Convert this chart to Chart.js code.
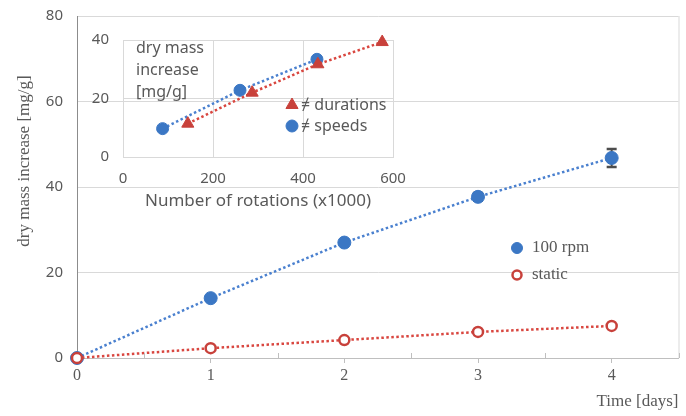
<!DOCTYPE html>
<html>
<head>
<meta charset="utf-8">
<script src="https://cdn.jsdelivr.net/npm/chart.js@4.4.0/dist/chart.umd.min.js"></script>
<style>
    body { margin: 0; background: #ffffff; }
    #wrap { position: relative; width: 686px; height: 416px; }
    #main_chart-container { position: absolute; left: 0; top: 0; }
    #inset_chart-container { position: absolute; left: 80px; top: 25px; }
</style>
</head>
<body>
<div id="wrap">
    <div id="main_chart-container"><canvas id="mainChart" width="686" height="416"></canvas></div>
    <div id="inset_chart-container"><canvas id="insetChart" width="330" height="190"></canvas></div>
</div>
<script>
// Main chart data (days vs dry mass increase)
var days = [0, 1, 2, 3, 4];
var rpm100 = [0, 14, 27, 37.7, 46.8];
var rpm100Err = [0, 0, 0, 0.9, 2.1];
var staticMass = [0, 2.3, 4.2, 6.1, 7.5];
var mainLabels = ["100 rpm", "static"];
var mainYTitle = "dry mass increase [mg/g]";
var mainXTitle = "Time [days]";

// Inset data (number of rotations x1000 vs dry mass increase)
var durRotations = [144, 287, 433, 576];
var durMass = [11.4, 22, 31.7, 39.3];
var speedRotations = [88, 260, 431];
var speedMass = [9.7, 22.8, 33.4];
var insetLabels = ["\u2260 durations", "\u2260 speeds"];
var insetYTitle = ["dry mass", "increase", "[mg/g]"];
var insetXTitle = "Number of rotations (x1000)";

var gray = "#595959";
var blue = "#3b77c4";
var red = "#c8413b";
var serif = "'Liberation Serif', 'DejaVu Serif', serif";
var sans = "'Noto Sans', 'Open Sans', sans-serif";

function toPoints(xs, ys) {
    return xs.map(function (x, i) { return { x: x, y: ys[i] }; });
}

// Fix an axis size and drop the extra label overhang padding
function fixSize(w, h) {
    return function (scale) {
        if (w) scale.width = w;
        if (h) scale.height = h;
        scale.paddingTop = 0;
        scale.paddingBottom = 0;
        scale.paddingLeft = 0;
        scale.paddingRight = 0;
    };
}

// Legend drawn inside the plot area
var insideLegend = {
    id: "insideLegend",
    afterDraw: function (chart, args, opts) {
        if (!opts.items) return;
        var ctx = chart.ctx;
        ctx.save();
        opts.items.forEach(function (item, i) {
            var ds = chart.data.datasets[item.dataset];
            var y = opts.y + i * opts.gap;
            ctx.fillStyle = ds.pointBackgroundColor;
            ctx.strokeStyle = ds.pointBorderColor;
            ctx.lineWidth = ds.pointBorderWidth;
            Chart.helpers.drawPoint(ctx, {
                pointStyle: ds.pointStyle,
                radius: item.radius || ds.pointRadius,
                borderWidth: ds.pointBorderWidth,
                rotation: 0
            }, opts.x, y);
            ctx.fillStyle = gray;
            ctx.font = opts.font;
            ctx.textBaseline = "middle";
            ctx.textAlign = "left";
            ctx.fillText(item.text, opts.textX, y);
        });
        ctx.restore();
    }
};

// Error bars for the 100 rpm series
var errorBars = {
    id: "errorBars",
    beforeDatasetsDraw: function (chart, args, opts) {
        if (!opts.errors) return;
        var xs = chart.scales.x, ys = chart.scales.y, ctx = chart.ctx;
        ctx.save();
        ctx.strokeStyle = "#4d4d4d";
        opts.xValues.forEach(function (xv, i) {
            var e = opts.errors[i];
            if (!e) return;
            var px = xs.getPixelForValue(xv);
            var top = ys.getPixelForValue(opts.values[i] + e);
            var bot = ys.getPixelForValue(opts.values[i] - e);
            ctx.lineWidth = 2;
            ctx.beginPath();
            ctx.moveTo(px, top);
            ctx.lineTo(px, bot);
            ctx.stroke();
            ctx.lineWidth = 2.5;
            ctx.beginPath();
            ctx.moveTo(px - 5, top);
            ctx.lineTo(px + 5, top);
            ctx.moveTo(px - 5, bot);
            ctx.lineTo(px + 5, bot);
            ctx.stroke();
        });
        ctx.restore();
    }
};

// Frame extras: right border, inner minor ticks, y title, multi-line inset label
var frameExtras = {
    id: "frameExtras",
    afterDraw: function (chart, args, opts) {
        var ctx = chart.ctx, area = chart.chartArea;
        ctx.save();
        if (opts.rightBorder) {
            ctx.strokeStyle = "#d9d9d9";
            ctx.lineWidth = 1;
            ctx.beginPath();
            ctx.moveTo(area.right + 0.5, area.top);
            ctx.lineTo(area.right + 0.5, area.bottom);
            ctx.stroke();
        }
        if (opts.minorTicks) {
            var xs = chart.scales.x;
            ctx.strokeStyle = "#bfbfbf";
            ctx.lineWidth = 1;
            xs.ticks.forEach(function (t) {
                if (t.value % 1 === 0) return;
                var px = Math.round(xs.getPixelForValue(t.value)) + 0.5;
                ctx.beginPath();
                ctx.moveTo(px, area.bottom);
                ctx.lineTo(px, area.bottom - 5);
                ctx.stroke();
            });
        }
        if (opts.yTitle) {
            ctx.fillStyle = gray;
            ctx.font = opts.yTitle.font;
            ctx.textAlign = "center";
            ctx.textBaseline = "middle";
            ctx.translate(opts.yTitle.x, opts.yTitle.y);
            ctx.rotate(-Math.PI / 2);
            ctx.fillText(opts.yTitle.text, 0, 0);
            ctx.setTransform(1, 0, 0, 1, 0, 0);
        }
        if (opts.lines) {
            ctx.fillStyle = gray;
            ctx.font = opts.lines.font;
            ctx.textAlign = "left";
            ctx.textBaseline = "middle";
            opts.lines.text.forEach(function (line, i) {
                ctx.fillText(line, opts.lines.x, opts.lines.y + i * opts.lines.gap);
            });
        }
        ctx.restore();
    }
};

Chart.register(insideLegend, errorBars, frameExtras);

// Main chart
new Chart(document.getElementById("mainChart").getContext("2d"), {
    type: "scatter",
    data: {
        datasets: [
            {
                label: mainLabels[0],
                data: toPoints(days, rpm100),
                showLine: true,
                clip: false,
                borderColor: "#4a80cf",
                borderWidth: 2.5,
                borderDash: [2.5, 2.5],
                pointStyle: "circle",
                pointRadius: 6.5,
                pointBorderWidth: 1,
                pointBackgroundColor: blue,
                pointBorderColor: blue,
                order: 2
            },
            {
                label: mainLabels[1],
                data: toPoints(days, staticMass),
                showLine: true,
                clip: false,
                borderColor: "#d9463f",
                borderWidth: 2.5,
                borderDash: [2.5, 2.5],
                pointStyle: "circle",
                pointRadius: 5,
                pointBorderWidth: 2.5,
                pointBackgroundColor: "#ffffff",
                pointBorderColor: red,
                order: 1
            }
        ]
    },
    options: {
        responsive: false,
        animation: false,
        layout: { padding: { top: 16, right: 7, left: 0, bottom: 0 } },
        plugins: {
            legend: { display: false },
            tooltip: { enabled: false },
            insideLegend: {
                items: [{ dataset: 0, text: mainLabels[0], radius: 5.5 }, { dataset: 1, text: mainLabels[1], radius: 4.5 }],
                x: 517, y: 248, gap: 27, textX: 532,
                font: "17px " + serif
            },
            errorBars: { xValues: days, values: rpm100, errors: rpm100Err },
            frameExtras: {
                rightBorder: true,
                minorTicks: true,
                yTitle: { text: mainYTitle, x: 25, y: 161, font: "17px " + serif }
            }
        },
        scales: {
            x: {
                type: "linear",
                min: 0,
                max: 4.5,
                afterFit: fixSize(0, 58),
                ticks: {
                    stepSize: 0.5,
                    color: gray,
                    font: { family: serif, size: 16 },
                    padding: 3,
                    maxRotation: 0,
                    autoSkip: false,
                    callback: function (v) { return v % 1 === 0 ? v : ""; }
                },
                grid: {
                    drawOnChartArea: false,
                    tickLength: 5,
                    tickColor: function (c) { return c.tick && c.tick.value % 1 === 0 ? "#bfbfbf" : "rgba(0,0,0,0)"; }
                },
                border: { color: "#bfbfbf" },
                title: {
                    display: true,
                    text: mainXTitle,
                    align: "end",
                    color: gray,
                    font: { family: serif, size: 17 },
                    padding: { top: 0, bottom: 4 }
                }
            },
            y: {
                min: 0,
                max: 80,
                afterFit: fixSize(77, 0),
                ticks: {
                    stepSize: 20,
                    color: gray,
                    font: { family: sans, size: 15 },
                    padding: 14
                },
                grid: { color: "#d9d9d9", drawTicks: false },
                border: { color: "#8c8c8c" }
            }
        }
    }
});

// Inset chart
new Chart(document.getElementById("insetChart").getContext("2d"), {
    type: "scatter",
    data: {
        datasets: [
            {
                label: insetLabels[0],
                data: toPoints(durRotations, durMass),
                showLine: true,
                clip: false,
                borderColor: "#d9463f",
                borderWidth: 2.5,
                borderDash: [2.5, 2.5],
                pointStyle: "triangle",
                pointRadius: 7,
                pointBorderWidth: 1,
                pointBackgroundColor: red,
                pointBorderColor: red
            },
            {
                label: insetLabels[1],
                data: toPoints(speedRotations, speedMass),
                showLine: true,
                clip: false,
                borderColor: "#4a80cf",
                borderWidth: 2.5,
                borderDash: [2.5, 2.5],
                pointStyle: "circle",
                pointRadius: 6,
                pointBorderWidth: 1,
                pointBackgroundColor: blue,
                pointBorderColor: blue
            }
        ]
    },
    options: {
        responsive: false,
        animation: false,
        layout: { padding: { top: 15, right: 17, left: 0, bottom: 0 } },
        plugins: {
            legend: { display: false },
            tooltip: { enabled: false },
            insideLegend: {
                items: [{ dataset: 0, text: insetLabels[0] }, { dataset: 1, text: insetLabels[1] }],
                x: 212, y: 80, gap: 21, textX: 221,
                font: "16px " + sans
            },
            frameExtras: {
                lines: { text: insetYTitle, x: 56, y: 23, gap: 22, font: "16px " + sans }
            }
        },
        scales: {
            x: {
                type: "linear",
                min: 0,
                max: 600,
                afterFit: fixSize(0, 58),
                ticks: {
                    stepSize: 200,
                    color: gray,
                    font: { family: sans, size: 15 },
                    padding: 13,
                    maxRotation: 0
                },
                grid: { color: "#d9d9d9", drawTicks: false },
                border: { color: "#d9d9d9" },
                title: {
                    display: true,
                    text: insetXTitle,
                    color: gray,
                    font: { family: sans, size: 17 },
                    padding: { top: 0, bottom: 4 }
                }
            },
            y: {
                min: 0,
                max: 40,
                afterFit: fixSize(43, 0),
                ticks: {
                    stepSize: 20,
                    color: gray,
                    font: { family: sans, size: 15 },
                    padding: 14
                },
                grid: { color: "#d9d9d9", drawTicks: false },
                border: { color: "#d9d9d9" }
            }
        }
    }
});
</script>
</body>
</html>
